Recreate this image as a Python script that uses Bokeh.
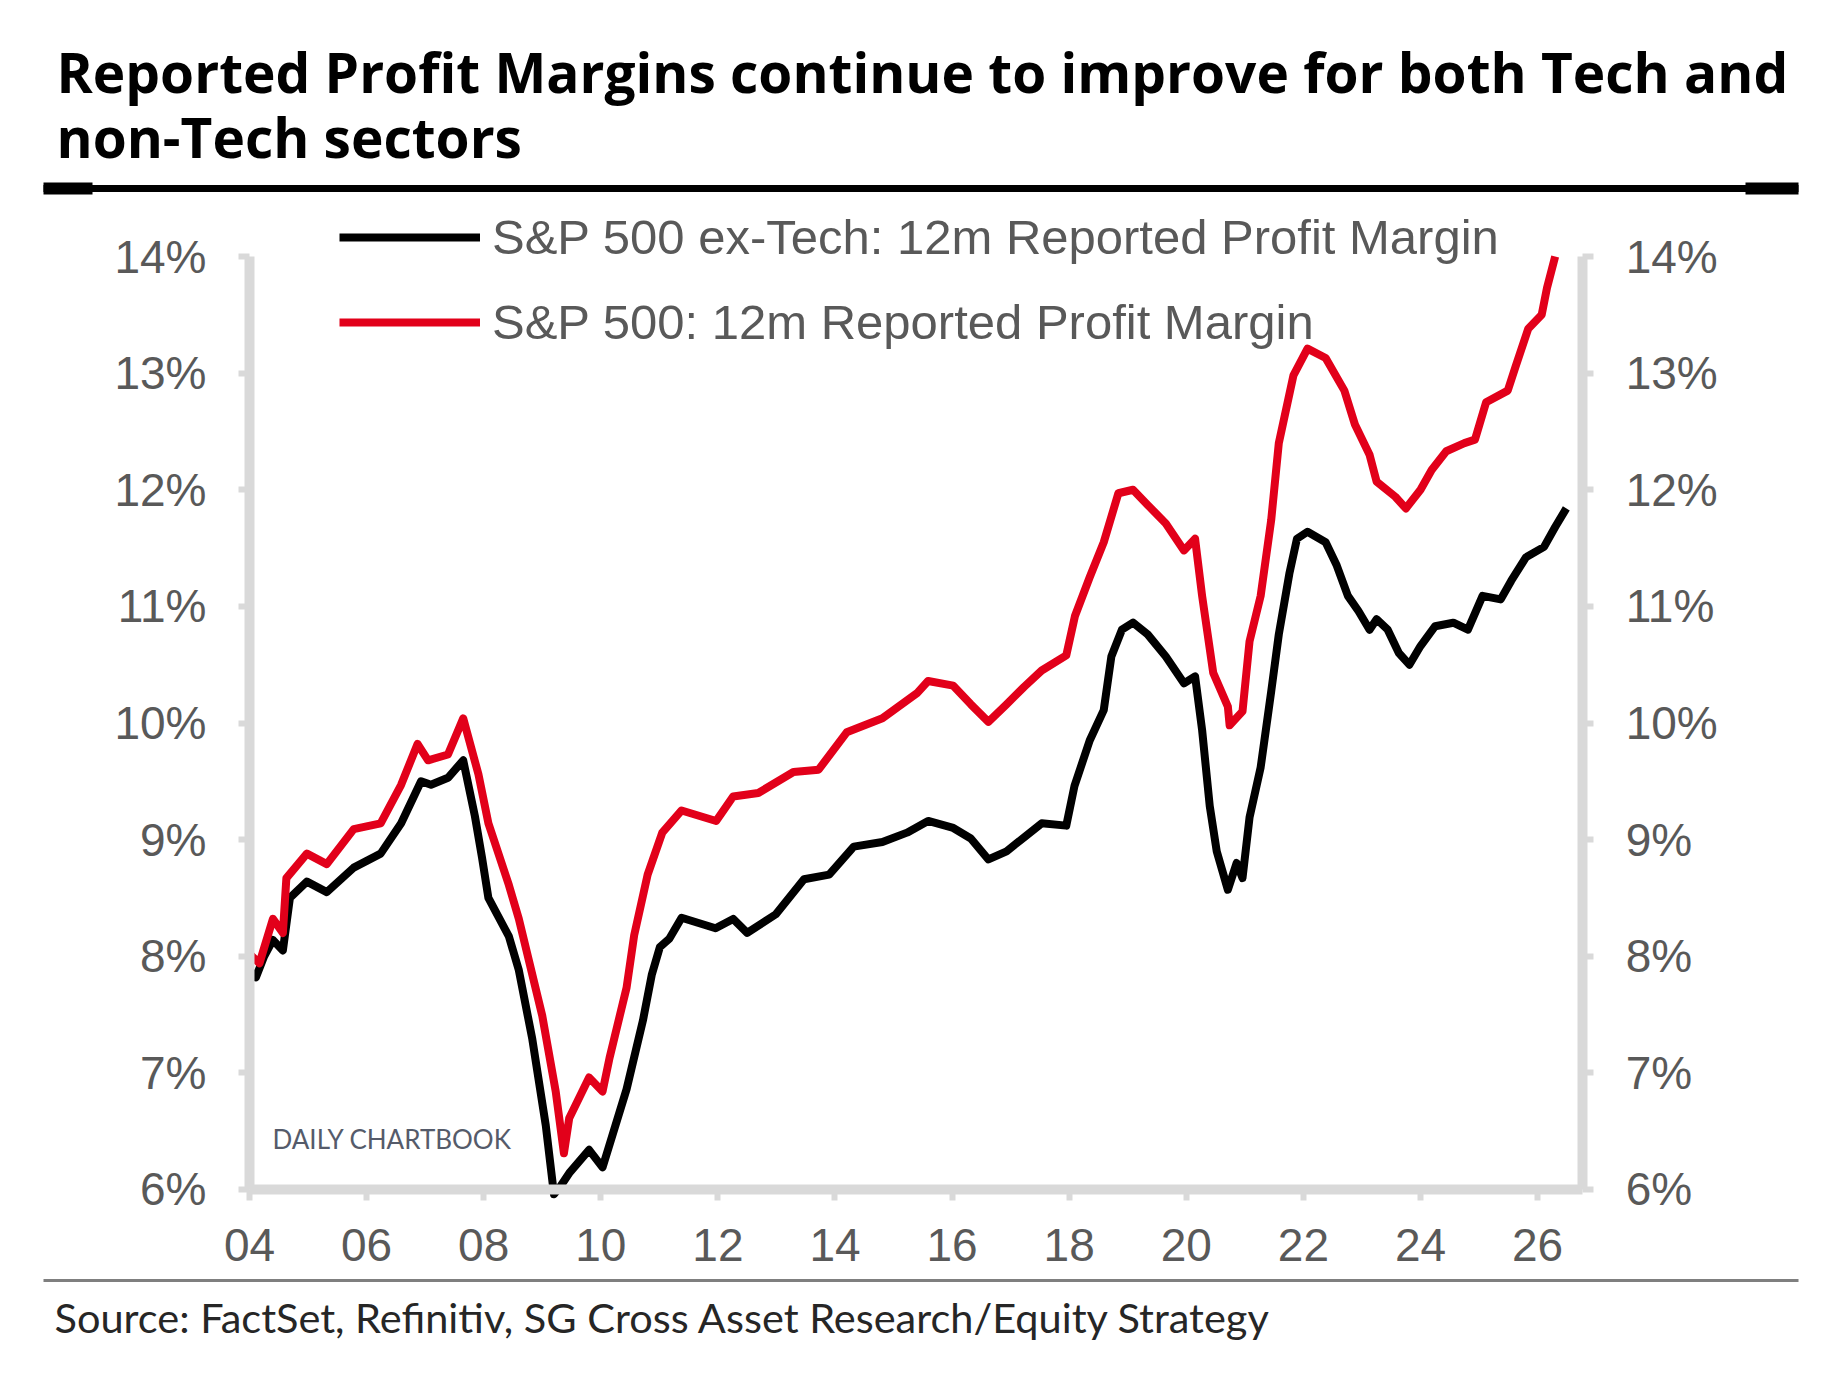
from bokeh.plotting import figure
from bokeh.models import (Range1d, LinearAxis, FixedTicker, Legend, LegendItem,
                          Label, BoxAnnotation)
from bokeh.embed import file_html
from bokeh.resources import INLINE

# ---------------- data ----------------
TITLE_LINES = ["Reported Profit Margins continue to improve for both Tech and",
               "non-Tech sectors"]
SOURCE_TEXT = "Source: FactSet, Refinitiv, SG Cross Asset Research/Equity Strategy"
WATERMARK = "DAILY CHARTBOOK"
SERIES_NAMES = ["S&P 500 ex-Tech: 12m Reported Profit Margin",
                "S&P 500: 12m Reported Profit Margin"]

Y_TICKS = [6, 7, 8, 9, 10, 11, 12, 13, 14]
Y_TICK_LABELS = ["6%", "7%", "8%", "9%", "10%", "11%", "12%", "13%", "14%"]
X_TICKS = [2004, 2006, 2008, 2010, 2012, 2014, 2016, 2018, 2020, 2022, 2024, 2026]
X_TICK_LABELS = ["04", "06", "08", "10", "12", "14", "16", "18", "20", "22", "24", "26"]
X_AXIS_SPAN = (2004, 2026.77)
Y_AXIS_SPAN = (6, 14)

EXTECH_DATES = [2004.00, 2004.11, 2004.25, 2004.40, 2004.57, 2004.69, 2004.98, 2005.32,
                2005.78, 2006.24, 2006.59, 2006.93, 2007.10, 2007.39, 2007.65, 2007.85,
                2007.97, 2008.08, 2008.43, 2008.60, 2008.83, 2009.06, 2009.20, 2009.30,
                2009.46, 2009.80, 2010.03, 2010.44, 2010.72, 2010.87, 2011.01, 2011.17,
                2011.38, 2011.96, 2012.26, 2012.50, 2012.99, 2013.47, 2013.90, 2014.32,
                2014.81, 2015.23, 2015.59, 2016.02, 2016.32, 2016.62, 2016.93, 2017.23,
                2017.53, 2017.95, 2018.09, 2018.35, 2018.59, 2018.72, 2018.90, 2019.09,
                2019.34, 2019.65, 2019.96, 2020.15, 2020.27, 2020.40, 2020.52, 2020.71,
                2020.86, 2020.96, 2021.08, 2021.27, 2021.45, 2021.58, 2021.76, 2021.89,
                2022.07, 2022.38, 2022.57, 2022.76, 2022.94, 2023.13, 2023.25, 2023.44,
                2023.63, 2023.81, 2024.00, 2024.25, 2024.56, 2024.81, 2025.06, 2025.37,
                2025.55, 2025.80, 2026.11, 2026.30, 2026.49]
EXTECH_VALUES = [7.88, 7.82, 8.00, 8.14, 8.05, 8.50, 8.64, 8.55,
                 8.76, 8.88, 9.14, 9.50, 9.47, 9.53, 9.68, 9.20,
                 8.85, 8.50, 8.17, 7.88, 7.29, 6.55, 5.96, 6.02,
                 6.14, 6.34, 6.19, 6.86, 7.45, 7.84, 8.08, 8.15,
                 8.33, 8.24, 8.32, 8.20, 8.36, 8.66, 8.70, 8.94,
                 8.98, 9.06, 9.16, 9.10, 9.01, 8.83, 8.90, 9.02,
                 9.14, 9.12, 9.46, 9.85, 10.11, 10.57, 10.80, 10.86,
                 10.76, 10.57, 10.34, 10.40, 9.94, 9.29, 8.90, 8.57,
                 8.80, 8.67, 9.19, 9.62, 10.27, 10.76, 11.28, 11.58,
                 11.64, 11.55, 11.35, 11.09, 10.96, 10.80, 10.89, 10.80,
                 10.60, 10.50, 10.66, 10.83, 10.86, 10.80, 11.09, 11.06,
                 11.22, 11.42, 11.51, 11.68, 11.84]

SPX_DATES = [2004.00, 2004.17, 2004.40, 2004.57, 2004.63, 2004.98, 2005.32, 2005.78,
             2006.24, 2006.59, 2006.87, 2007.05, 2007.39, 2007.65, 2007.91, 2008.08,
             2008.43, 2008.60, 2009.00, 2009.23, 2009.37, 2009.46, 2009.80, 2010.03,
             2010.15, 2010.44, 2010.57, 2010.80, 2011.05, 2011.38, 2011.97, 2012.26,
             2012.69, 2013.29, 2013.72, 2014.20, 2014.81, 2015.41, 2015.59, 2016.02,
             2016.32, 2016.62, 2016.93, 2017.23, 2017.53, 2017.95, 2018.10, 2018.35,
             2018.59, 2018.84, 2019.09, 2019.34, 2019.65, 2019.96, 2020.15, 2020.27,
             2020.46, 2020.71, 2020.74, 2020.96, 2021.08, 2021.27, 2021.45, 2021.58,
             2021.83, 2022.07, 2022.38, 2022.70, 2022.88, 2023.13, 2023.25, 2023.57,
             2023.75, 2024.00, 2024.19, 2024.44, 2024.75, 2024.93, 2025.12, 2025.49,
             2025.62, 2025.84, 2026.07, 2026.16, 2026.30]
SPX_VALUES = [8.02, 7.94, 8.32, 8.20, 8.67, 8.88, 8.79, 9.09,
              9.14, 9.47, 9.82, 9.68, 9.73, 10.04, 9.56, 9.14,
              8.61, 8.32, 7.49, 6.84, 6.31, 6.61, 6.96, 6.84,
              7.13, 7.73, 8.18, 8.70, 9.06, 9.25, 9.16, 9.37,
              9.40, 9.58, 9.60, 9.92, 10.04, 10.26, 10.36, 10.32,
              10.16, 10.01, 10.16, 10.31, 10.45, 10.58, 10.92, 11.25,
              11.55, 11.97, 12.00, 11.87, 11.71, 11.48, 11.58, 11.09,
              10.43, 10.14, 9.98, 10.10, 10.70, 11.09, 11.74, 12.40,
              12.98, 13.21, 13.13, 12.85, 12.56, 12.30, 12.07, 11.94,
              11.84, 12.00, 12.17, 12.33, 12.40, 12.43, 12.75, 12.85,
              13.05, 13.38, 13.50, 13.73, 14.00]

# ---------------- styles ----------------
AXIS_GREY = "#d9d9d9"
LABEL_GREY = "#595959"
RED = "#e2001a"
TICK_FONT = "Liberation Sans"

W, H = 1820, 1378
# the frame fills the whole canvas; axes are pinned at the data edges
p = figure(width=W, height=H,
           x_range=Range1d(1999.7472, 2030.8318), y_range=Range1d(4.3794, 16.1951),
           output_backend="svg", toolbar_location=None,
           x_axis_location=None, y_axis_location=None,
           min_border=0, min_border_left=0, min_border_right=0,
           min_border_top=0, min_border_bottom=0)
p.outline_line_color = None
p.grid.visible = False
p.background_fill_color = "white"
p.border_fill_color = "white"


def make_axis(ticks, labels, standoff, loc, bounds):
    ax = LinearAxis(fixed_location=loc, bounds=bounds)
    ax.ticker = FixedTicker(ticks=ticks)
    ax.major_label_overrides = {t: l for t, l in zip(ticks, labels)}
    ax.axis_line_color = AXIS_GREY
    ax.axis_line_width = 10
    ax.major_tick_line_color = AXIS_GREY
    ax.major_tick_line_width = 6
    ax.major_tick_out = 11
    ax.major_tick_in = 0
    ax.minor_tick_line_color = None
    ax.major_label_text_font = TICK_FONT
    ax.major_label_text_font_size = "46px"
    ax.major_label_text_color = LABEL_GREY
    ax.major_label_standoff = standoff
    return ax


r_black = p.line(EXTECH_DATES, EXTECH_VALUES, line_color="black", line_width=8,
                 line_join="round")
r_red = p.line(SPX_DATES, SPX_VALUES, line_color=RED, line_width=8,
               line_join="round")

p.add_layout(make_axis(X_TICKS, X_TICK_LABELS, 29, Y_AXIS_SPAN[0], X_AXIS_SPAN), "below")
p.add_layout(make_axis(Y_TICKS, Y_TICK_LABELS, 32, X_AXIS_SPAN[0], Y_AXIS_SPAN), "left")
p.add_layout(make_axis(Y_TICKS, Y_TICK_LABELS, 32, X_AXIS_SPAN[1], Y_AXIS_SPAN), "right")

legend = Legend(items=[LegendItem(label=SERIES_NAMES[0], renderers=[r_black]),
                       LegendItem(label=SERIES_NAMES[1], renderers=[r_red])],
                location=(339, 1028))
legend.background_fill_alpha = 0
legend.border_line_color = None
legend.padding = 0
legend.margin = 0
legend.spacing = 29
legend.glyph_width = 141
legend.glyph_height = 50
legend.label_height = 50
legend.label_standoff = 12
legend.label_text_font = TICK_FONT
legend.label_text_font_size = "49px"
legend.label_text_color = LABEL_GREY
p.add_layout(legend, "center")


def screen_box(left, right, bottom, top, color):
    return BoxAnnotation(left=left, right=right, top=top, bottom=bottom,
                         left_units="screen", right_units="screen",
                         top_units="screen", bottom_units="screen",
                         fill_color=color, fill_alpha=1, line_color=None)


# title
for txt, yb in zip(TITLE_LINES, [1307, 1242]):
    p.add_layout(Label(x=56, y=yb, x_units="screen", y_units="screen",
                       text=txt, text_font="Open Sans", text_font_style="bold",
                       text_font_size="55px", text_color="black",
                       text_baseline="alphabetic"))
# rules
p.add_layout(screen_box(43, 1798, 1186.5, 1193.5, "black"))
p.add_layout(screen_box(43, 92, 1184, 1196, "black"))
p.add_layout(screen_box(1745, 1798, 1184, 1196, "black"))
p.add_layout(screen_box(43, 1798, 96.5, 99.5, "#7f7f7f"))
# source + watermark
p.add_layout(Label(x=54, y=62, x_units="screen", y_units="screen",
                   text=SOURCE_TEXT, text_font="Lato", text_font_size="41.5px",
                   text_color="#262626", text_baseline="alphabetic"))
p.add_layout(Label(x=272, y=240, x_units="screen", y_units="screen",
                   text=WATERMARK, text_font="Lato", text_font_size="26px",
                   text_color="#555b6a", text_baseline="alphabetic"))

open("out.html", "w").write(file_html(p, INLINE))
